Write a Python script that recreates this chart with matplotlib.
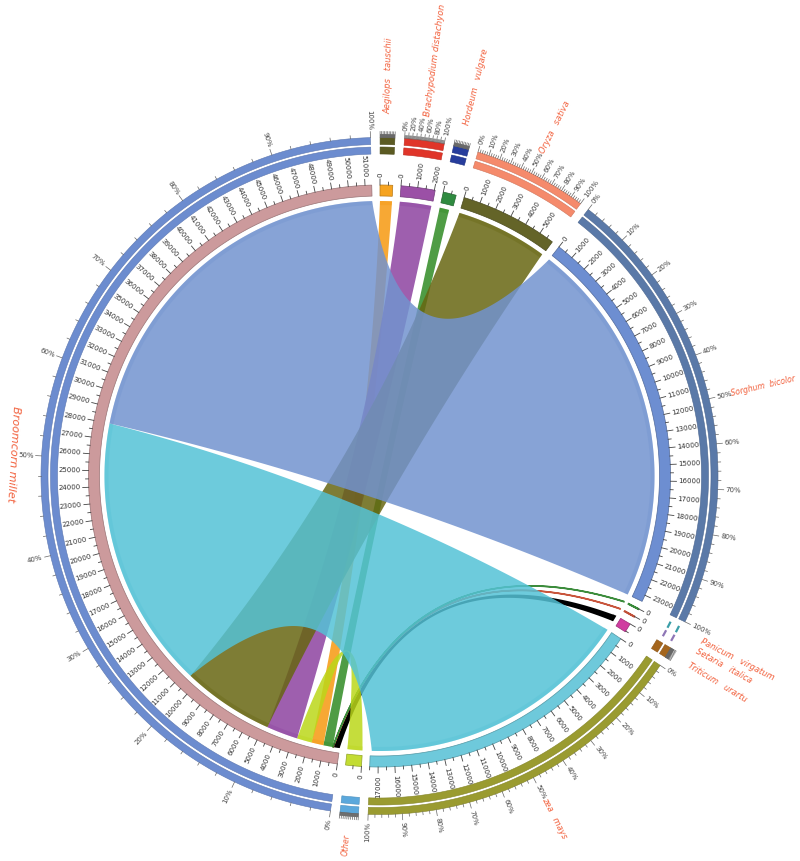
import numpy as np
import matplotlib
matplotlib.use("Agg")
import matplotlib.pyplot as plt
from matplotlib.patches import Polygon

# ---------------- data ----------------
segment_names = ["Aegilops tauschii", "Brachypodium distachyon", "Hordeum vulgare",
                 "Oryza sativa", "Sorghum bicolor", "Panicum virgatum", "Setaria italica",
                 "Triticum urartu", "zea mays", "Other", "Broomcorn millet"]
segment_labels = ["Aegilops   tauschii", "Brachypodium distachyon", "Hordeum   vulgare",
                  "Oryza   sativa", "Sorghum  bicolor", "Panicum   virgatum",
                  "Setaria   italica", "Triticum   urartu", "zea   mays", "Other",
                  "Broomcorn millet"]
segment_sizes = [760, 2050, 790, 5900, 23400, 20, 20, 550, 17500, 950, 51400]

ideogram_colors = ["#f6a31f", "#9b50a6", "#2f8b40", "#646428", "#6d8ed1", "#3a8a3a",
                   "#c05038", "#d03ca0", "#6ec9db", "#c3dc33", "#cc9a9c"]
ring_colors = ["#5b5a22", "#e03529", "#273d9c", "#f58a6b", "#5a79a8", "#3a9ea8",
               "#8e76b6", "#a5661d", "#9a9b30", "#5ba8dc", "#6c8ccf"]

# links: all from Broomcorn millet, stacked from its position 0 in this order
hub = "Broomcorn millet"
link_targets = ["Triticum urartu", "Setaria italica", "Panicum virgatum", "Hordeum vulgare",
                "Aegilops tauschii", "Other", "Brachypodium distachyon", "Oryza sativa",
                "zea mays", "Sorghum bicolor"]
link_values = [400, 20, 20, 600, 760, 950, 2000, 5850, 17400, 23400]
link_colors = ["#000000", "#c8553c", "#3c8c3c", "#308b24", "#f69910", "#bbd71a",
               "#8d43a0", "#676611", "#54c2d6", "#7293cf"]

# ---------------- layout ----------------
W, H = 800, 861
CX, CY = 379.5, 476.0
DEG_PER_UNIT = 3.31 / 1000.0
START = 0.1
n = len(segment_sizes)
gap = (360.0 - sum(segment_sizes) * DEG_PER_UNIT) / n

R_LINK = 275
R_IDEO_IN, R_IDEO_OUT = 280, 291
R_RING1 = (322, 329)
R_RING2 = (331.5, 338.5)
LABEL_COLOR = "#f2603c"

seg_start = {}
a = START
for name, size in zip(segment_names, segment_sizes):
    seg_start[name] = a
    a += size * DEG_PER_UNIT + gap
seg_size = dict(zip(segment_names, segment_sizes))


def ang(name, pos):
    return seg_start[name] + pos * DEG_PER_UNIT


def pt(theta, r):
    th = np.deg2rad(theta)
    return np.array([CX + r * np.sin(th), CY - r * np.cos(th)])


def arc(t1, t2, r):
    m = max(2, int(abs(t2 - t1) * 6) + 2)
    th = np.deg2rad(np.linspace(t1, t2, m))
    return np.column_stack([CX + r * np.sin(th), CY - r * np.cos(th)])


def band(t1, t2, r1, r2):
    return np.vstack([arc(t1, t2, r2), arc(t2, t1, r1)])


def bezier(p0, p2, k=0.3, m=80):
    c = np.array([CX, CY])
    ctrl = c + k * ((p0 - c) + (p2 - c)) / 2
    t = np.linspace(0, 1, m)[:, None]
    return (1 - t) ** 2 * p0 + 2 * (1 - t) * t * ctrl + t ** 2 * p2


def darker(hexc, f=0.75):
    rgb = np.array(matplotlib.colors.to_rgb(hexc))
    return tuple(rgb * f)


fig = plt.figure(figsize=(W / 100, H / 100), dpi=100)
ax = fig.add_axes([0, 0, 1, 1])
ax.set_xlim(0, W)
ax.set_ylim(H, 0)
ax.axis("off")


def radial_text(theta, r, s, size, color, style="normal"):
    p = pt(theta, r)
    phi = 90 - theta
    th = theta % 360
    if th < 180:
        rot, ha = phi, "left"
    else:
        rot, ha = phi + 180, "right"
    ax.text(p[0], p[1], s, rotation=rot, ha=ha, va="center", rotation_mode="anchor",
            fontsize=size, color=color, style=style, family="DejaVu Sans")


# ---------------- ribbons ----------------
hub_pos = 0.0
for tgt, val, col in zip(link_targets, link_values, link_colors):
    h1, h2 = ang(hub, hub_pos), ang(hub, hub_pos + val)
    t1, t2 = ang(tgt, 0), ang(tgt, val)
    hub_pos += val
    poly = np.vstack([arc(t1, t2, R_LINK), bezier(pt(t2, R_LINK), pt(h1, R_LINK)),
                      arc(h1, h2, R_LINK), bezier(pt(h2, R_LINK), pt(t1, R_LINK))])
    thin = val < 100
    black = col == "#000000"
    alpha = 1.0 if (thin or black) else 0.85
    ax.add_patch(Polygon(poly, closed=True, facecolor=col, alpha=alpha,
                         edgecolor=col if thin else "none", lw=1.1 if thin else 0, zorder=2))
    # darker strip at ribbon ends
    for q1, q2 in ((t1, t2), (h1, h2)):
        ax.add_patch(Polygon(band(q1, q2, R_LINK - 4, R_LINK), closed=True,
                             facecolor=col, alpha=0.35, edgecolor="none", zorder=2.5))

# ---------------- ideograms, rings, ticks ----------------
for i, name in enumerate(segment_names):
    s = seg_start[name]
    size = seg_size[name]
    e = s + size * DEG_PER_UNIT
    tiny = size < 100
    col = ideogram_colors[i]
    ax.add_patch(Polygon(band(s, e, R_IDEO_IN, R_IDEO_OUT), closed=True, facecolor=col,
                         edgecolor=col if tiny else darker(col), lw=1.3 if tiny else 0.5,
                         zorder=3))
    # outer rings
    rc = ring_colors[i]
    if tiny:
        mid = (s + e) / 2
        for rr in (R_RING1, R_RING2):
            ln = arc(mid - 0.6, mid + 0.6, (rr[0] + rr[1]) / 2)
            ax.plot(ln[:, 0], ln[:, 1], color=rc, lw=1.6, zorder=3, solid_capstyle="butt")
    else:
        for rr in (R_RING1, R_RING2):
            ax.add_patch(Polygon(band(s, e, rr[0], rr[1]), closed=True, facecolor=rc,
                                 edgecolor=darker(rc, 0.85), lw=0.4, zorder=3))
    # count ticks
    for v in range(0, size + 1, 500):
        th = s + v * DEG_PER_UNIT
        major = v % 1000 == 0
        p0, p1 = pt(th, R_IDEO_OUT), pt(th, R_IDEO_OUT + (6 if major else 3))
        ax.plot([p0[0], p1[0]], [p0[1], p1[1]], color="#444444", lw=0.6, zorder=3)
        if major:
            radial_text(th, R_IDEO_OUT + 8, str(v), 5, "#333333")
    # percentage ticks
    if not tiny:
        span = e - s
        arc_px = np.deg2rad(span) * 350
        step = None
        for st in (10, 20):
            if arc_px * st / 100 >= 8:
                step = st
                break
        for p in range(0, 101, 2):
            th = s + span * p / 100
            major = p % 10 == 0
            p0, p1 = pt(th, R_RING2[1]), pt(th, R_RING2[1] + (6 if major else 3))
            ax.plot([p0[0], p1[0]], [p0[1], p1[1]], color="#666666", lw=0.5, zorder=3)
            if step and p % step == 0:
                radial_text(th, R_RING2[1] + 8, f"{p}%", 5, "#444444")
    # segment label
    mid = (s + e) / 2
    lab = segment_labels[i]
    if name == hub:
        p = pt(mid, 367)
        ax.text(p[0], p[1], lab, rotation=180 - mid, ha="center", va="center",
                rotation_mode="anchor", fontsize=8, color=LABEL_COLOR, style="italic")
    elif name == "Brachypodium distachyon":
        radial_text(mid, 363, lab, 6.3, LABEL_COLOR, style="italic")
    elif name == "Other":
        radial_text(mid, 360, lab, 5.5, LABEL_COLOR, style="italic")
    elif name == "Sorghum bicolor":
        radial_text(mid, 361, lab, 5.6, LABEL_COLOR, style="italic")
    else:
        radial_text(mid, 362, lab, 6, LABEL_COLOR, style="italic")

fig.savefig("out.png", dpi=100)
